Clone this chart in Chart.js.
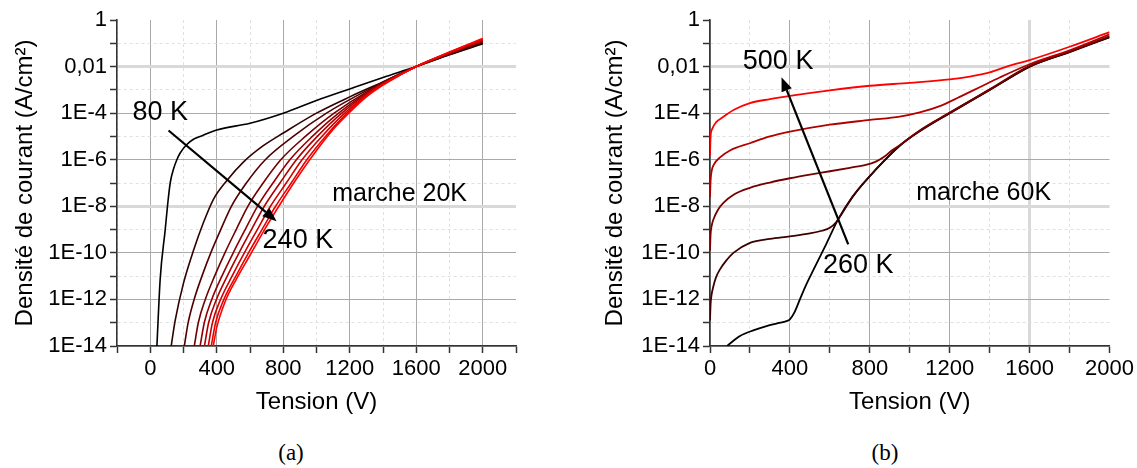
<!DOCTYPE html>
<html>
<head>
<meta charset="utf-8">
<script src="https://cdn.jsdelivr.net/npm/chart.js@4.4.1/dist/chart.umd.min.js"></script>
<style>
  body { margin: 0; background: #fff; }
  #wrap { position: relative; width: 1137px; height: 468px; overflow: hidden; }
  canvas { position: absolute; top: 0; }
  #cA { left: 0; }
  #cB { left: 580px; }
  .cap { position: absolute; top: 453px; transform: translate(-50%, -50%);
         font-family: "Liberation Serif", "DejaVu Serif", serif; font-size: 23px; color: #000; }
</style>
</head>
<body>
<div id="wrap">
  <canvas id="cA" width="540" height="430"></canvas>
  <canvas id="cB" width="557" height="430"></canvas>
  <div class="cap" style="left:291px">(a)</div>
  <div class="cap" style="left:885px">(b)</div>
</div>
<script>
Chart.defaults.font.family = '"Liberation Sans", Arial, sans-serif';
Chart.defaults.color = '#000';

// decade ticks, labels every 2 decades
var yTickValues = [1e-14, 1e-13, 1e-12, 1e-11, 1e-10, 1e-9, 1e-8, 1e-7, 1e-6, 1e-5, 1e-4, 1e-3, 1e-2, 1e-1, 1];
var yTickLabels = ['1E-14', '', '1E-12', '', '1E-10', '', '1E-8', '', '1E-6', '', '1E-4', '', '0,01', '', '1'];
var xTickLabels = [0, 400, 800, 1200, 1600, 2000];

// ---- (a) marche 20K : 80 K -> 240 K ----
var v80  = [40, 60, 90, 105, 120, 140, 160, 180, 220, 260, 300, 400, 600, 800, 1000, 1200, 1400, 1600, 1800, 2000];
var j80  = [1e-14, 7.9e-12, 1e-9, 1.26e-8, 1e-7, 4e-7, 1e-6, 1.95e-6, 4.5e-6, 7.6e-6, 1e-5, 1.9e-5, 3.7e-5, 1e-4, 3.5e-4, 1.1e-3, 3.4e-3, 1e-2, 3.2e-2, 9.5e-2];
var v100 = [126, 150, 200, 260, 320, 380, 460, 560, 680, 800, 1000, 1200, 1400, 1600, 1800, 2000];
var j100 = [1e-14, 1.26e-13, 5e-12, 1.26e-10, 2e-9, 2e-8, 1.26e-7, 7.9e-7, 4e-6, 1.4e-5, 1e-4, 5e-4, 2.2e-3, 1e-2, 3.3e-2, 1.05e-1];
var v120 = [205, 228, 264, 311, 364, 424, 488, 578, 692, 860, 1060, 1309, 1600, 1800, 2000];
var j120 = [1e-14, 1e-13, 1e-12, 1e-11, 1e-10, 1e-9, 1e-8, 1e-7, 1e-6, 1e-5, 1e-4, 1e-3, 1e-2, 3.5e-2, 1.12e-1];
var v140 = [265, 289, 331, 387, 449, 517, 587, 679, 785, 933, 1106, 1323, 1600, 1800, 2000];
var j140 = [1e-14, 1e-13, 1e-12, 1e-11, 1e-10, 1e-9, 1e-8, 1e-7, 1e-6, 1e-5, 1e-4, 1e-3, 1e-2, 3.5e-2, 1.2e-1];
var v160 = [300, 325, 370, 431, 499, 571, 645, 738, 840, 975, 1133, 1331, 1600, 1800, 2000];
var j160 = [1e-14, 1e-13, 1e-12, 1e-11, 1e-10, 1e-9, 1e-8, 1e-7, 1e-6, 1e-5, 1e-4, 1e-3, 1e-2, 3.7e-2, 1.26e-1];
var v180 = [326, 351, 398, 463, 534, 609, 686, 780, 879, 1005, 1152, 1337, 1600, 1800, 2000];
var j180 = [1e-14, 1e-13, 1e-12, 1e-11, 1e-10, 1e-9, 1e-8, 1e-7, 1e-6, 1e-5, 1e-4, 1e-3, 1e-2, 3.8e-2, 1.35e-1];
var v200 = [349, 374, 423, 492, 566, 644, 723, 818, 913, 1032, 1170, 1343, 1600, 1800, 2000];
var j200 = [1e-14, 1e-13, 1e-12, 1e-11, 1e-10, 1e-9, 1e-8, 1e-7, 1e-6, 1e-5, 1e-4, 1e-3, 1e-2, 4e-2, 1.4e-1];
var v220 = [367, 393, 443, 515, 591, 672, 754, 848, 942, 1054, 1184, 1347, 1600, 1800, 2000];
var j220 = [1e-14, 1e-13, 1e-12, 1e-11, 1e-10, 1e-9, 1e-8, 1e-7, 1e-6, 1e-5, 1e-4, 1e-3, 1e-2, 4.1e-2, 1.5e-1];
var v240 = [379, 400, 450, 520, 600, 700, 800, 900, 1000, 1100, 1200, 1300, 1400, 1500, 1600, 1800, 2000];
var j240 = [1e-14, 6.3e-14, 7.9e-13, 7.9e-12, 7.9e-11, 1.4e-9, 2e-8, 2.5e-7, 2.5e-6, 2e-5, 1.1e-4, 5e-4, 1.6e-3, 4.2e-3, 1e-2, 4.2e-2, 1.6e-1];

var voltsA = [v80, v100, v120, v140, v160, v180, v200, v220, v240];
var currA  = [j80, j100, j120, j140, j160, j180, j200, j220, j240];
var colorsA = ['#000000', '#300000', '#500000', '#700000', '#8f0000', '#ae0000', '#cc0000', '#e80000', '#ff0000'];

// ---- (b) marche 60K : 260 K -> 500 K ----
var v260 = [85, 150, 220, 283, 340, 383, 400, 420, 450, 480, 517, 583, 642, 717, 833, 950, 1050, 1200, 1300, 1400, 1500, 1600, 1800, 2000];
var j260 = [1e-14, 2.7e-14, 4.8e-14, 7.2e-14, 9.5e-14, 1.17e-13, 1.4e-13, 2.5e-13, 1e-12, 4e-12, 1.8e-11, 2.5e-10, 2.8e-9, 2.8e-8, 4e-7, 4e-6, 1.66e-5, 1e-4, 3.2e-4, 1e-3, 3.2e-3, 1e-2, 4.2e-2, 1.8e-1];
var v320 = [0, 3, 8, 17, 30, 50, 80, 117, 200, 300, 400, 500, 560, 600, 630, 660, 717, 833, 950, 1050, 1200, 1400, 1600, 1800, 2000];
var j320 = [1.26e-13, 6.3e-13, 1.6e-12, 3.7e-12, 8.9e-12, 1.95e-11, 4.5e-11, 1e-10, 2.7e-10, 4e-10, 5.1e-10, 6.8e-10, 8.9e-10, 1.2e-9, 2e-9, 4.8e-9, 2.8e-8, 4e-7, 4e-6, 1.74e-5, 1e-4, 1e-3, 1e-2, 4.3e-2, 1.9e-1];
var v380 = [0, 3, 8, 17, 40, 67, 120, 200, 300, 400, 500, 600, 700, 780, 830, 870, 910, 950, 1050, 1200, 1400, 1600, 1800, 2000];
var j380 = [1.26e-10, 6.3e-10, 1.4e-9, 2.7e-9, 7.1e-9, 1.4e-8, 3.2e-8, 6.2e-8, 1.05e-7, 1.6e-7, 2.3e-7, 3.2e-7, 4.5e-7, 6e-7, 8.3e-7, 1.3e-6, 2.5e-6, 4.2e-6, 1.8e-5, 1.05e-4, 1.05e-3, 1.07e-2, 4.5e-2, 2e-1];
var v440 = [0, 3, 8, 20, 50, 100, 200, 300, 400, 600, 800, 950, 1050, 1150, 1250, 1350, 1450, 1600, 1800, 2000];
var j440 = [2.5e-8, 1.26e-7, 3.2e-7, 6.3e-7, 1.26e-6, 2.5e-6, 5.1e-6, 1e-5, 1.6e-5, 3.2e-5, 5.1e-5, 7.1e-5, 1.07e-4, 2e-4, 5e-4, 1.3e-3, 3.4e-3, 1.26e-2, 5e-2, 2.4e-1];
var v500 = [0, 3, 10, 30, 60, 120, 200, 300, 400, 600, 800, 1000, 1200, 1300, 1400, 1500, 1600, 1800, 2000];
var j500 = [1.6e-6, 1e-5, 2e-5, 4e-5, 6.3e-5, 1.4e-4, 2.7e-4, 4e-4, 5.5e-4, 9.5e-4, 1.5e-3, 2e-3, 2.8e-3, 3.7e-3, 5.6e-3, 1.1e-2, 1.9e-2, 7.1e-2, 3e-1];

var voltsB = [v260, v320, v380, v440, v500];
var currB  = [j260, j320, j380, j440, j500];
var colorsB = ['#000000', '#3d0000', '#750000', '#b00000', '#ff0000'];

var CLEAR = 'rgba(0,0,0,0)';
var MAJOR = '#a9a9a9', MINOR = '#e0e0e0', WIDE = '#d9d9d9';

function buildSets(volts, curr, colors, width) {
  return volts.map(function (v, k) {
    return {
      data: v.map(function (x, i) { return {x: x, y: curr[k][i]}; }),
      borderColor: colors[k],
      borderWidth: width,
      pointRadius: 0,
      fill: false,
      cubicInterpolationMode: 'monotone',
      order: volts.length - k
    };
  });
}

function yScale(axisWidth, titlePad) {
  return {
    type: 'logarithmic',
    min: 1e-14, max: 1,
    afterBuildTicks: function (s) { s.ticks = yTickValues.map(function (v) { return {value: v}; }); },
    afterFit: function (s) { s.width = axisWidth; },
    ticks: {
      autoSkip: false, padding: 3, font: {size: 22},
      callback: function (v, i) { return yTickLabels[i]; }
    },
    grid: {
      color: function (c) {
        var i = c.index;
        if (i === 14) return CLEAR;
        if (i === 6 || i === 12) return WIDE;
        return i % 2 ? MINOR : MAJOR;
      },
      lineWidth: function (c) { return (c.index === 6 || c.index === 12) ? 3 : 1; },
      tickColor: '#333', tickWidth: 1.5, tickLength: 7
    },
    border: {
      color: '#333', width: 1.6,
      dash: function (c) { return (c.index % 2) ? [3, 3] : []; }
    },
    title: {
      display: true, text: 'Densité de courant (A/cm²)', font: {size: 24},
      padding: {top: titlePad, bottom: 0}
    }
  };
}

function xScale(min, max, wideAt) {
  return {
    type: 'linear', min: min, max: max,
    afterFit: function (s) { s.height = 84; },
    ticks: {
      stepSize: 200, autoSkip: false, maxRotation: 0, padding: 3, font: {size: 22},
      callback: function (v) { return xTickLabels.indexOf(v) >= 0 ? String(v) : ''; }
    },
    grid: {
      color: function (c) {
        var v = c.tick ? c.tick.value : 0;
        if (v === max) return CLEAR;
        if (v === wideAt) return WIDE;
        return v % 400 === 0 ? MAJOR : MINOR;
      },
      lineWidth: function (c) { return (c.tick && c.tick.value === wideAt) ? 3 : 1; },
      tickColor: '#333', tickWidth: 1.5, tickLength: 7
    },
    border: {
      color: '#333', width: 1.6,
      dash: function (c) { return (c.tick && c.tick.value % 400 !== 0) ? [3, 3] : []; }
    },
    title: {
      display: true, text: 'Tension (V)', font: {size: 24},
      padding: {top: 0, bottom: 13}
    }
  };
}

// texts and arrows placed in data units
var annotate = {
  id: 'annotate',
  afterDatasetsDraw: function (chart, args, opts) {
    var ctx = chart.ctx, xs = chart.scales.x, ys = chart.scales.y;
    ctx.save();
    ctx.fillStyle = '#000';
    ctx.strokeStyle = '#000';
    ctx.textAlign = 'center';
    ctx.textBaseline = 'middle';
    opts.texts.forEach(function (t) {
      ctx.font = t.size + 'px "Liberation Sans", Arial, sans-serif';
      ctx.fillText(t.text, xs.getPixelForValue(t.x), ys.getPixelForValue(t.y));
    });
    opts.arrows.forEach(function (a) {
      var x1 = xs.getPixelForValue(a.x1), y1 = ys.getPixelForValue(a.y1);
      var x2 = xs.getPixelForValue(a.x2), y2 = ys.getPixelForValue(a.y2);
      var ang = Math.atan2(y2 - y1, x2 - x1);
      var L = 14, W = 5.5;
      var bx = x2 - L * Math.cos(ang), by = y2 - L * Math.sin(ang);
      ctx.lineWidth = 2.2;
      ctx.beginPath(); ctx.moveTo(x1, y1); ctx.lineTo(bx, by); ctx.stroke();
      ctx.beginPath();
      ctx.moveTo(x2, y2);
      ctx.lineTo(bx + W * Math.sin(ang), by - W * Math.cos(ang));
      ctx.lineTo(bx - W * Math.sin(ang), by + W * Math.cos(ang));
      ctx.closePath(); ctx.fill();
    });
    ctx.restore();
  }
};

function makeChart(id, sets, xsc, ysc, padRight, notes) {
  return new Chart(document.getElementById(id), {
    type: 'line',
    data: {datasets: sets},
    options: {
      responsive: false,
      animation: false,
      devicePixelRatio: 1,
      layout: {padding: {top: 20, right: padRight, bottom: 0, left: 0}},
      scales: {x: xsc, y: ysc},
      plugins: {legend: {display: false}, tooltip: {enabled: false}, annotate: notes}
    },
    plugins: [annotate]
  });
}

makeChart('cA', buildSets(voltsA, currA, colorsA, 1.6), xScale(-200, 2200, null), yScale(117, 11), 24, {
  texts: [
    {text: '80 K', x: 60, y: 1.07e-4, size: 27},
    {text: '240 K', x: 888, y: 3.5e-10, size: 27},
    {text: 'marche 20K', x: 1500, y: 3.4e-8, size: 25}
  ],
  arrows: [{x1: 110, y1: 1.8e-5, x2: 760, y2: 2.3e-9}]
});

makeChart('cB', buildSets(voltsB, currB, colorsB, 1.8), xScale(0, 2000, 1600), yScale(130, 21), 27, {
  texts: [
    {text: '500 K', x: 341, y: 1.6e-2, size: 27},
    {text: '260 K', x: 742, y: 2.75e-11, size: 27},
    {text: 'marche 60K', x: 1370, y: 3.7e-8, size: 25}
  ],
  arrows: [{x1: 692, y1: 2.3e-10, x2: 358, y2: 3.5e-3}]
});
</script>
</body>
</html>
